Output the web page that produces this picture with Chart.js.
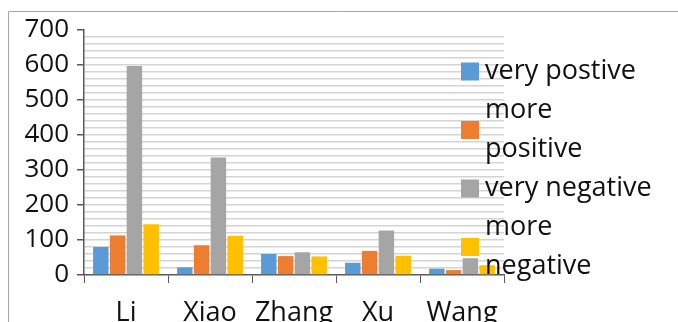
<!DOCTYPE html>
<html>
<head>
<meta charset="utf-8">
<script src="https://cdn.jsdelivr.net/npm/chart.js@4.4.0/dist/chart.umd.min.js"></script>
<style>
  html, body { margin: 0; padding: 0; background: #fff; }
  #wrap { width: 678px; height: 322px; }
</style>
</head>
<body>
<div id="wrap"><canvas id="votes" width="678" height="322"></canvas></div>
<script>
const names = ['Li', 'Xiao', 'Zhang', 'Xu', 'Wang'];
const seriesNames = ['very postive', 'more positive', 'very negative', 'more negative'];
const veryPositive = [80, 22, 60, 35, 18];
const morePositive = [113, 85, 54, 69, 14];
const veryNegative = [597, 336, 65, 127, 48];
const moreNegative = [145, 112, 53, 55, 28];
const yTicks = [0, 100, 200, 300, 400, 500, 600, 700];
// legend entries wrap like the original workbook did
const legendLines = [['very postive'], ['more', 'positive'], ['very negative'], ['more', 'negative']];

const colors = ['#5B9BD5', '#ED7D31', '#A5A5A5', '#FFC000'];
const family = '"Open Sans", sans-serif';
const axisColor = '#595959';

const frame = {
  id: 'frame',
  beforeDraw(chart) {
    const ctx = chart.ctx;
    ctx.save();
    ctx.fillStyle = '#fff';
    ctx.fillRect(0, 0, chart.width, chart.height);
    ctx.strokeStyle = '#a6a6a6';
    ctx.lineWidth = 1;
    ctx.beginPath();
    ctx.moveTo(8.5, chart.height);
    ctx.lineTo(8.5, 11.5);
    ctx.lineTo(chart.width, 11.5);
    ctx.stroke();
    ctx.restore();
  }
};

const sideLegend = {
  id: 'sideLegend',
  afterDraw(chart) {
    const ctx = chart.ctx;
    const lineH = 39;
    const left = chart.chartArea.right - 43;
    let top = 52;
    ctx.save();
    ctx.font = '27px ' + family;
    ctx.textBaseline = 'middle';
    chart.data.datasets.forEach((ds, i) => {
      const lines = legendLines[i];
      const h = lines.length * lineH;
      ctx.fillStyle = ds.backgroundColor;
      ctx.fillRect(left, top + h / 2 - 9, 18, 18);
      ctx.fillStyle = '#111';
      lines.forEach((t, j) => {
        ctx.fillText(t, left + 24, top + lineH * j + lineH / 2);
      });
      top += h;
    });
    ctx.restore();
  }
};

const series = [veryPositive, morePositive, veryNegative, moreNegative];

new Chart(document.getElementById('votes'), {
  type: 'bar',
  data: {
    labels: names,
    datasets: series.map((vals, i) => ({
      label: seriesNames[i],
      data: vals,
      backgroundColor: colors[i],
      categoryPercentage: 0.8,
      barPercentage: 0.92
    }))
  },
  options: {
    responsive: false,
    animation: false,
    devicePixelRatio: 1,
    layout: { padding: { left: 8, top: 30, right: 174, bottom: 0 } },
    plugins: {
      legend: { display: false },
      tooltip: { enabled: false }
    },
    scales: {
      x: {
        grid: {
          offset: true,
          color: c => c.index === names.length ? '#bfbfbf' : 'transparent',
          tickColor: axisColor,
          tickLength: 8,
          lineWidth: 1
        },
        border: { color: axisColor, width: 1.5 },
        ticks: {
          font: { family: family, size: 27 },
          color: '#111',
          padding: 14,
          maxRotation: 0,
          minRotation: 0,
          autoSkip: false
        },
        afterFit(scale) { scale.height = 47; }
      },
      y: {
        min: 0,
        max: 700,
        grid: {
          color: c => (c.tick.value === 0 || c.tick.value === 700) ? 'transparent' : '#d4d4d4',
          tickColor: c => yTicks.includes(c.tick.value) ? axisColor : 'transparent',
          tickLength: 7,
          lineWidth: 1.5
        },
        border: { color: axisColor, width: 1.5 },
        ticks: {
          stepSize: 20,
          autoSkip: false,
          font: { family: family, size: 26 },
          color: '#111',
          padding: 8,
          callback: v => yTicks.includes(v) ? v : ''
        },
        afterFit(scale) { scale.width = 76; }
      }
    }
  },
  plugins: [frame, sideLegend]
});
</script>
</body>
</html>
